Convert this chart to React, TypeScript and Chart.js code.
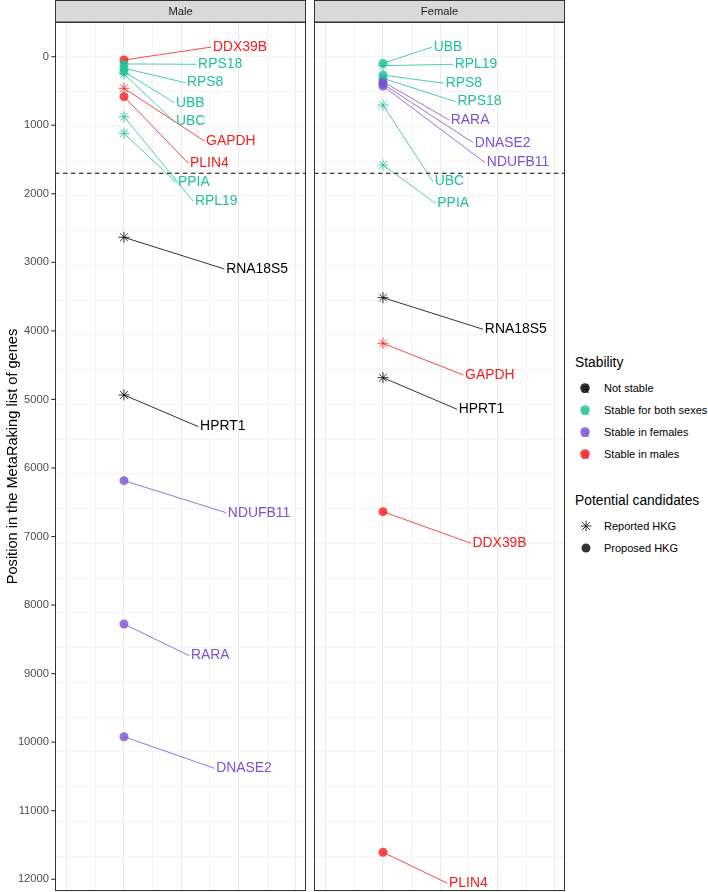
import React, { useEffect, useRef } from "react";
import { Chart, registerables } from "chart.js";
Chart.register(...registerables);

const FONT_FAMILY = '"Liberation Sans", Arial, Helvetica, sans-serif';

// ---- legend levels / colours ----
const stabilityLevels = ["Not stable", "Stable for both sexes", "Stable in females", "Stable in males"];
const stabilityColors = ["#000000", "#1FC197", "#7B50D2", "#F51C1C"];
const candidateLevels = ["Reported HKG", "Proposed HKG"];
const reportedGenes = ["UBC", "GAPDH", "RPL19", "PPIA", "RNA18S5", "HPRT1"];
const facetNames = ["Male", "Female"];
const thresholdPosition = 1700;
const yAxisTitle = "Position in the MetaRaking list of genes";
const legendTitles = ["Stability", "Potential candidates"];
const yTickValues = [0, 1000, 2000, 3000, 4000, 5000, 6000, 7000, 8000, 9000, 10000, 11000, 12000];

// ---- Male facet ----
const maleGenes = ["DDX39B", "RPS18", "RPS8", "UBB", "UBC", "GAPDH", "PLIN4", "RPL19", "PPIA", "RNA18S5", "HPRT1", "NDUFB11", "RARA", "DNASE2"];
const malePositions = [48, 106, 169, 219, 252, 461, 583, 875, 1118, 2635, 4935, 6185, 8276, 9920];
// index into stabilityLevels
const maleStability = [3, 1, 1, 1, 1, 3, 3, 1, 1, 0, 0, 2, 2, 2];
// repelled label anchors (data units)
const maleLabelX = [3.11, 2.59, 2.2, 1.82, 1.82, 2.87, 2.31, 2.48, 1.89, 3.57, 2.66, 3.63, 2.34, 3.22];
const maleLabelY = [-140, 111, 379, 671, 948, 1230, 1555, 2107, 1837, 3097, 5397, 6652, 8738, 10381];

// ---- Female facet ----
const femaleGenes = ["UBB", "RPL19", "RPS8", "RPS18", "RARA", "DNASE2", "NDUFB11", "UBC", "PPIA", "RNA18S5", "GAPDH", "HPRT1", "DDX39B", "PLIN4"];
const femalePositions = [97, 131, 267, 316, 365, 398, 427, 705, 1580, 3515, 4181, 4683, 6637, 11606];
const femaleStability = [1, 1, 1, 1, 2, 2, 2, 1, 1, 0, 3, 0, 3, 3];
const femaleLabelX = [1.77, 2.51, 2.19, 2.6, 2.37, 3.21, 3.63, 1.81, 1.9, 3.56, 2.87, 2.65, 3.13, 2.31];
const femaleLabelY = [-140, 111, 388, 656, 923, 1255, 1546, 1823, 2139, 3977, 4644, 5144, 7098, 12058];

const X_MIN = -2.41;
const X_MAX = 6.36;
const Y_MIN = -506;
const Y_MAX = 12171;

function rgba(hex: string, a: number) {
  const h = hex.replace("#", "");
  const r = parseInt(h.slice(0, 2), 16);
  const g = parseInt(h.slice(2, 4), 16);
  const b = parseInt(h.slice(4, 6), 16);
  return `rgba(${r},${g},${b},${a})`;
}

type PanelProps = {
  title: string;
  genes: string[];
  positions: number[];
  stability: number[];
  labelX: number[];
  labelY: number[];
  showAxis: boolean;
  left: number;
  width: number;
};

function Panel(props: PanelProps) {
  const { title, genes, positions, stability, labelX, labelY, showAxis, left, width } = props;
  const ref = useRef<HTMLCanvasElement>(null);

  useEffect(() => {
    const canvas = ref.current;
    if (!canvas) return;
    const colorOf = (i: number) => stabilityColors[stability[i]];
    const isReported = (i: number) => reportedGenes.includes(genes[i]);

    const segmentSets: any[] = genes.map((g, i) => ({
      type: "line",
      label: g,
      data: [
        { x: 0, y: positions[i] },
        { x: labelX[i] - 0.06, y: labelY[i] },
      ],
      borderColor: colorOf(i),
      borderWidth: 0.8,
      pointRadius: 0,
      showLine: true,
      fill: false,
      order: 1,
    }));

    const pointSet: any = {
      type: "scatter",
      label: "points",
      data: positions.map((p) => ({ x: 0, y: p })),
      pointStyle: genes.map((g, i) => (isReported(i) ? "star" : "circle")),
      pointRadius: genes.map((g, i) => (isReported(i) ? 5.5 : 4.5)),
      pointBackgroundColor: genes.map((g, i) => rgba(colorOf(i), 0.8)),
      pointBorderColor: genes.map((g, i) => rgba(colorOf(i), 0.8)),
      pointBorderWidth: genes.map((g, i) => (isReported(i) ? 1 : 0)),
      showLine: false,
      order: 2,
    };

    const thresholdSet: any = {
      type: "line",
      label: "threshold",
      data: [
        { x: X_MIN, y: thresholdPosition },
        { x: X_MAX, y: thresholdPosition },
      ],
      borderColor: "#000000",
      borderWidth: 1.1,
      borderDash: [4.5, 3.5],
      pointRadius: 0,
      showLine: true,
      order: 0,
    };

    const labelPlugin = {
      id: "geneLabels",
      afterDatasetsDraw(chart: any) {
        const { ctx, scales } = chart;
        ctx.save();
        ctx.font = `13.9px ${FONT_FAMILY}`;
        ctx.textAlign = "left";
        ctx.textBaseline = "middle";
        genes.forEach((g, i) => {
          ctx.fillStyle = colorOf(i);
          ctx.fillText(g, scales.x.getPixelForValue(labelX[i]), scales.y.getPixelForValue(labelY[i]));
        });
        ctx.restore();
      },
    };

    const framePlugin = {
      id: "frame",
      beforeDraw(chart: any) {
        const { ctx, chartArea } = chart;
        ctx.save();
        ctx.fillStyle = "#FFFFFF";
        ctx.fillRect(0, 0, chart.width, chart.height);
        const w = chartArea.right - chartArea.left;
        ctx.fillStyle = "#D9D9D9";
        ctx.fillRect(chartArea.left, 0, w, chartArea.top);
        ctx.strokeStyle = "#333333";
        ctx.lineWidth = 1;
        ctx.strokeRect(chartArea.left + 0.5, 0.5, w - 1, chartArea.top - 0.5);
        ctx.fillStyle = "#1A1A1A";
        ctx.font = `11.2px ${FONT_FAMILY}`;
        ctx.textAlign = "center";
        ctx.textBaseline = "middle";
        ctx.fillText(title, chartArea.left + w / 2, chartArea.top / 2 + 0.5);
        ctx.restore();
      },
      afterDraw(chart: any) {
        const { ctx, chartArea, scales } = chart;
        ctx.save();
        ctx.strokeStyle = "#333333";
        ctx.lineWidth = 1;
        ctx.strokeRect(
          chartArea.left + 0.5,
          chartArea.top + 0.5,
          chartArea.right - chartArea.left - 1,
          chartArea.bottom - chartArea.top - 1
        );
        if (showAxis) {
          ctx.font = `11.2px ${FONT_FAMILY}`;
          ctx.textAlign = "right";
          ctx.textBaseline = "middle";
          ctx.fillStyle = "#4D4D4D";
          ctx.lineWidth = 1.1;
          yTickValues.forEach((v) => {
            const py = scales.y.getPixelForValue(v);
            ctx.beginPath();
            ctx.moveTo(chartArea.left - 3.7, py);
            ctx.lineTo(chartArea.left, py);
            ctx.stroke();
            ctx.fillText(String(v), chartArea.left - 6, py);
          });
        }
        ctx.restore();
      },
    };

    const chart = new Chart(canvas, {
      type: "scatter",
      data: { datasets: [thresholdSet, ...segmentSets, pointSet] },
      options: {
        responsive: false,
        animation: false,
        devicePixelRatio: 1,
        layout: {
          autoPadding: false,
          padding: { left: showAxis ? 0 : 4, right: showAxis ? 4 : 5, top: 22, bottom: 1 },
        },
        plugins: { legend: { display: false }, tooltip: { enabled: false } },
        events: [],
        scales: {
          x: {
            type: "linear",
            min: X_MIN,
            max: X_MAX,
            ticks: { display: false, stepSize: 1, includeBounds: false },
            grid: {
              color: "#EBEBEB",
              lineWidth: (ctx: any) => (ctx.tick && Math.round(ctx.tick.value) % 2 === 0 ? 1.1 : 0.55),
              drawTicks: false,
            },
            border: { display: false },
            afterFit: (s: any) => {
              s.height = 0;
            },
          },
          y: {
            type: "linear",
            reverse: true,
            min: Y_MIN,
            max: Y_MAX,
            ticks: {
              display: false,
              stepSize: 500,
              includeBounds: false,
            },
            grid: {
              color: "#EBEBEB",
              lineWidth: (ctx: any) => (ctx.tick && ctx.tick.value % 1000 === 0 ? 1.1 : 0.55),
              drawTicks: false,
            },
            border: { display: false },
            title: {
              display: showAxis,
              text: yAxisTitle,
              color: "#000000",
              font: { family: FONT_FAMILY, size: 14.6 },
              padding: { top: 4, bottom: 4 },
            },
            afterFit: (s: any) => {
              s.width = showAxis ? 55 : 0;
            },
          },
        },
      } as any,
      plugins: [framePlugin, labelPlugin],
    });
    return () => chart.destroy();
  }, []);

  return (
    <canvas
      ref={ref}
      width={width}
      height={892}
      style={{ position: "absolute", left, top: 0, width, height: 892 }}
    />
  );
}

function StabilityKey({ color }: { color: string }) {
  return (
    <svg width={18} height={18} style={{ position: "absolute", left: -9, top: -9 }}>
      <circle cx={9} cy={9} r={4.8} fill={rgba(color, 0.8)} />
      <text
        x={9}
        y={9}
        textAnchor="middle"
        dominantBaseline="central"
        fontFamily={FONT_FAMILY}
        fontSize={13}
        fill={rgba(color, 0.8)}
      >
        a
      </text>
    </svg>
  );
}

function ShapeKey({ reported }: { reported: boolean }) {
  const c = "rgba(0,0,0,0.8)";
  const r = 5.5;
  const d = r * 0.7071;
  return (
    <svg width={18} height={18} style={{ position: "absolute", left: -9, top: -9 }}>
      {reported ? (
        <g stroke={c} strokeWidth={1}>
          <line x1={9 - r} y1={9} x2={9 + r} y2={9} />
          <line x1={9} y1={9 - r} x2={9} y2={9 + r} />
          <line x1={9 - d} y1={9 - d} x2={9 + d} y2={9 + d} />
          <line x1={9 - d} y1={9 + d} x2={9 + d} y2={9 - d} />
        </g>
      ) : (
        <circle cx={9} cy={9} r={4.5} fill={c} />
      )}
    </svg>
  );
}

function Legend() {
  const titleStyle = (top: number): React.CSSProperties => ({
    position: "absolute",
    left: 575,
    top: top - 9,
    height: 18,
    lineHeight: "18px",
    fontFamily: FONT_FAMILY,
    fontSize: 13.8,
    color: "#000",
    whiteSpace: "nowrap",
  });
  const textStyle = (top: number): React.CSSProperties => ({
    position: "absolute",
    left: 604,
    top: top - 8,
    height: 16,
    lineHeight: "16px",
    fontFamily: FONT_FAMILY,
    fontSize: 11,
    color: "#000",
    whiteSpace: "nowrap",
  });
  const stabY = [387.5, 409.8, 432.1, 454.4];
  const candY = [525.7, 547.5];
  return (
    <>
      <div style={titleStyle(363)}>{legendTitles[0]}</div>
      {stabilityLevels.map((lvl, i) => (
        <React.Fragment key={lvl}>
          <div style={{ position: "absolute", left: 585, top: stabY[i], width: 0, height: 0 }}>
            <StabilityKey color={stabilityColors[i]} />
          </div>
          <div style={textStyle(stabY[i])}>{lvl}</div>
        </React.Fragment>
      ))}
      <div style={titleStyle(501)}>{legendTitles[1]}</div>
      {candidateLevels.map((lvl, i) => (
        <React.Fragment key={lvl}>
          <div style={{ position: "absolute", left: 585.5, top: candY[i], width: 0, height: 0 }}>
            <ShapeKey reported={i === 0} />
          </div>
          <div style={textStyle(candY[i])}>{lvl}</div>
        </React.Fragment>
      ))}
    </>
  );
}

export default function App() {
  return (
    <div
      style={{
        position: "absolute",
        left: 0,
        top: 0,
        width: 708,
        height: 892,
        background: "#FFFFFF",
        overflow: "hidden",
      }}
    >
      <Panel
        title={facetNames[0]}
        genes={maleGenes}
        positions={malePositions}
        stability={maleStability}
        labelX={maleLabelX}
        labelY={maleLabelY}
        showAxis={true}
        left={0}
        width={310}
      />
      <Panel
        title={facetNames[1]}
        genes={femaleGenes}
        positions={femalePositions}
        stability={femaleStability}
        labelX={femaleLabelX}
        labelY={femaleLabelY}
        showAxis={false}
        left={310}
        width={260}
      />
      <Legend />
    </div>
  );
}
